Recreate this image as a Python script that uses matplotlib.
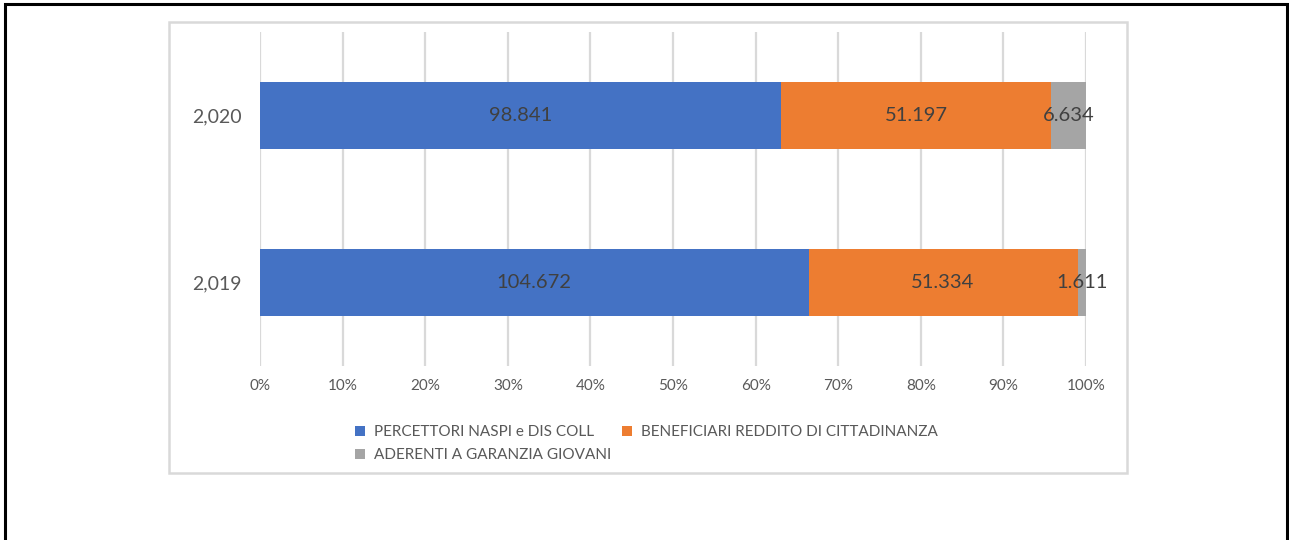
import matplotlib.pyplot as plt
from matplotlib.patches import Patch, Rectangle

plt.rcParams['font.family'] = ['Lato', 'DejaVu Sans']

# Data
years = ['2,019', '2,020']
naspi = [104.672, 98.841]
reddito = [51.334, 51.197]
garanzia = [1.611, 6.634]
series_names = ['PERCETTORI NASPI e DIS COLL',
                'BENEFICIARI REDDITO DI CITTADINANZA',
                'ADERENTI A GARANZIA GIOVANI']
colors = ['#4472C4', '#ED7D31', '#A5A5A5']
pct_ticks = [0, 10, 20, 30, 40, 50, 60, 70, 80, 90, 100]

W, H = 1289, 540
fig = plt.figure(figsize=(W / 100, H / 100), dpi=100)

# outer black frame (bottom edge cut off) and inner grey chart frame
fig.patches.append(Rectangle((5 / W, -0.05), 1282 / W, 1.05 - 4 / H, transform=fig.transFigure,
                             fill=False, edgecolor='black', linewidth=2.2, zorder=0))
fig.patches.append(Rectangle((169 / W, 1 - 473 / H), 958 / W, 451 / H, transform=fig.transFigure,
                             fill=False, edgecolor='#D9D9D9', linewidth=1.8, zorder=0))

ax = fig.add_axes([260 / W, 1 - 366 / H, 826 / W, 334 / H])

# convert to percentage of row total
totals = [a + b + c for a, b, c in zip(naspi, reddito, garanzia)]
series = [naspi, reddito, garanzia]
lefts = [0.0] * len(years)
ypos = list(range(len(years)))
for vals, col in zip(series, colors):
    pcts = [v / t * 100 for v, t in zip(vals, totals)]
    ax.barh(ypos, pcts, left=lefts, height=0.4, color=col, zorder=2)
    for y, l, p, v in zip(ypos, lefts, pcts, vals):
        ax.text(l + p / 2, y, f'{v:.3f}', ha='center', va='center',
                fontsize=14.5, color='#404040', zorder=3)
    lefts = [l + p for l, p in zip(lefts, pcts)]

ax.set_xlim(0, 100)
ax.set_ylim(-0.5, 1.5)
ax.set_xticks(pct_ticks)
ax.set_xticklabels([f'{t}%' for t in pct_ticks], fontsize=11, color='#595959')
ax.set_yticks(ypos)
ax.set_yticklabels(years, fontsize=14, color='#595959')
ax.tick_params(axis='both', length=0)
ax.tick_params(axis='x', pad=9)
ax.tick_params(axis='y', pad=13)
ax.grid(axis='x', color='#D9D9D9', linewidth=1.6, zorder=0)
ax.set_axisbelow(True)
for s in ax.spines.values():
    s.set_visible(False)

handles = [Patch(facecolor=c, edgecolor='none') for c in colors]
order = [0, 2, 1]
fig.legend([handles[i] for i in order], [series_names[i] for i in order],
           loc='upper left', bbox_to_anchor=(355 / W, 1 - 425 / H), ncol=2,
           frameon=False, fontsize=11, labelcolor='#595959',
           handlelength=0.65, handleheight=0.65, handletextpad=0.6,
           columnspacing=0.7, labelspacing=0.6, borderpad=0, borderaxespad=0)

fig.savefig('out.png', dpi=100)
